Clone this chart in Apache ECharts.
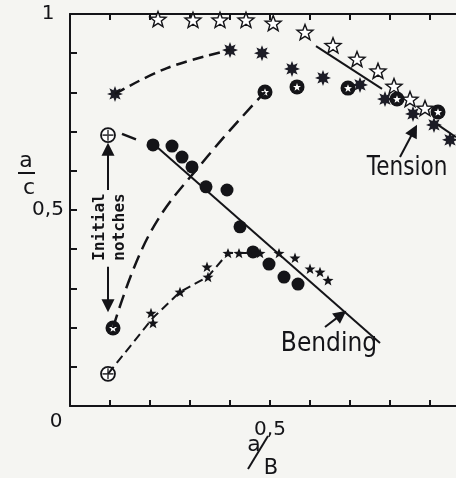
<!DOCTYPE html>
<html>
<head>
<meta charset="utf-8">
<script src="https://cdn.jsdelivr.net/npm/echarts@6/dist/echarts.min.js"></script>
<style>
html, body { margin: 0; padding: 0; background: #f5f5f2; }
#chart { width: 456px; height: 478px; }
</style>
</head>
<body>
<div id="chart"></div>
<script>
// tension: open stars
var openStars = [[0.22,0.987],[0.3075,0.985],[0.375,0.985],[0.44,0.985],[0.508,0.977],[0.5875,0.954],
	[0.6575,0.92],[0.7175,0.885],[0.77,0.855],[0.81,0.816],[0.85,0.783],[0.8875,0.76]];
// filled 8-point stars
var bursts = [[0.1125,0.796],[0.4,0.908],[0.48,0.9],[0.555,0.86],[0.6325,0.837],[0.725,0.819],
	[0.7875,0.783],[0.8575,0.745],[0.91,0.717],[0.95,0.679]];
// rings with a star inside
var ringStars = [[0.1075,0.199],[0.4875,0.801],[0.5675,0.814],[0.695,0.811],[0.8175,0.783],[0.92,0.75]];
// initial notches
var notches = [[0.095,0.691],[0.095,0.082]];
// bending: filled dots
var dots = [[0.2075,0.666],[0.255,0.663],[0.28,0.635],[0.305,0.61],[0.34,0.559],[0.3925,0.551],
	[0.425,0.457],[0.4575,0.393],[0.4975,0.362],[0.535,0.329],[0.57,0.311]];
// small filled stars
var smallStars = [[0.2025,0.237],[0.2075,0.212],[0.275,0.291],[0.3425,0.355],[0.345,0.329],[0.395,0.39],
	[0.4225,0.39],[0.475,0.39],[0.5225,0.39],[0.5625,0.378],[0.6,0.35],[0.625,0.342],[0.645,0.321]];

// hand drawn fit lines
var burstCurve = [[0.1125,0.796],[0.2425,0.862],[0.4,0.908]];
var ringCurve = [[0.1075,0.199],[0.2,0.441],[0.3425,0.635],[0.4875,0.801]];
var smallStarCurve = [[0.095,0.082],[0.2075,0.225],[0.275,0.291],[0.345,0.33],[0.395,0.39],[0.47,0.39]];
var notchDash = [[0.13,0.694],[0.165,0.68]];
var bendingLine = [[0.2175,0.661],[0.775,0.161]];
var tensionLineA = [[0.615,0.918],[0.78,0.809]];
var tensionLineB = [[0.92,0.717],[0.965,0.686]];

// arrows [from, to]
var arrows = [
	[[0.095,0.551],[0.095,0.655]],
	[[0.095,0.355],[0.095,0.256]],
	[[0.825,0.635],[0.86,0.703]],
	[[0.6375,0.2015],[0.678,0.233]]
];

var ink = '#141418';

function starPath(n, r1, r2) {
	var s = 'path://';
	for (var i = 0; i < 2 * n; i++) {
		var r = i % 2 ? r2 : r1, a = Math.PI * i / n - Math.PI / 2;
		s += (i ? 'L' : 'M') + (r * Math.cos(a)).toFixed(2) + ',' + (r * Math.sin(a)).toFixed(2);
	}
	return s + 'Z';
}
var star5 = starPath(5, 10, 4.2);
var star8 = starPath(8, 10, 5.2);

function lineSeries(data, width, dash, smooth) {
	return {
		type: 'line', data: data, symbol: 'none', smooth: smooth ? 0.4 : false, silent: true,
		lineStyle: { color: ink, width: width, type: dash || 'solid', cap: 'butt' }
	};
}
function dotSeries(data, symbol, size, fill, border, bw) {
	return {
		type: 'scatter', data: data, symbol: symbol, symbolSize: size, symbolKeepAspect: true, silent: true,
		itemStyle: { color: fill, borderColor: border || fill, borderWidth: bw || 0, opacity: 1 }
	};
}
function label(text, x, y, size, extra) {
	var el = { type: 'text', x: x, y: y, style: { text: text, font: size + 'px "DejaVu Sans"', fill: ink, align: 'center', verticalAlign: 'middle' } };
	for (var k in extra) el[k] = extra[k];
	return el;
}

var chart = echarts.init(document.getElementById('chart'));
var bending = lineSeries(bendingLine, 2);
bending.markLine = {
	silent: true,
	symbol: ['none', 'path://M5,0L10,18L0,18Z'],
	symbolSize: 13,
	symbolKeepAspect: false,
	label: { show: false },
	lineStyle: { color: ink, width: 2, type: 'solid' },
	data: arrows.map(function (a) { return [{ coord: a[0] }, { coord: a[1] }]; })
};

var axisFont = { color: ink, fontSize: 20, fontFamily: 'DejaVu Sans' };

chart.setOption({
	backgroundColor: '#f5f5f2',
	animation: false,
	grid: { left: 70, right: -14, top: 14, bottom: 72, outerBoundsMode: 'none' },
	xAxis: [{
		type: 'value', min: 0, max: 1, interval: 0.1,
		axisLine: { lineStyle: { color: ink, width: 2 } },
		axisTick: { inside: true, length: 6, lineStyle: { color: ink, width: 2 } },
		splitLine: { show: false },
		axisLabel: Object.assign({
			margin: 14,
			formatter: function (v) { return Math.round(v * 10) === 5 ? '0,5' : ''; }
		}, axisFont)
	}, {
		type: 'value', min: 0, max: 1, interval: 0.1, position: 'top',
		axisLine: { lineStyle: { color: ink, width: 2 } },
		axisTick: { inside: true, length: 6, lineStyle: { color: ink, width: 2 } },
		splitLine: { show: false },
		axisLabel: { show: false }
	}],
	yAxis: {
		type: 'value', min: 0, max: 1, interval: 0.1,
		axisLine: { lineStyle: { color: ink, width: 2 } },
		axisTick: { inside: true, length: 7, lineStyle: { color: ink, width: 2 } },
		splitLine: { show: false },
		axisLabel: Object.assign({
			margin: 22, align: 'center',
			formatter: function (v) {
				var k = Math.round(v * 10);
				return k === 10 ? '1' : (k === 5 ? '0,5' : '');
			}
		}, axisFont)
	},
	graphic: [
		label('0', 56, 422, 20),
		label('a', 26, 161, 22),
		{ type: 'line', shape: { x1: 18, y1: 173, x2: 35, y2: 173 }, style: { stroke: ink, lineWidth: 2 } },
		label('c', 29, 188, 22),
		label('a', 254, 445, 22),
		{ type: 'line', shape: { x1: 268, y1: 436, x2: 248, y2: 469 }, style: { stroke: ink, lineWidth: 2 } },
		label('B', 271, 469, 21),
		{ type: 'text', x: 100, y: 227, rotation: Math.PI / 2, style: { text: 'Initial', font: 'bold 16px "DejaVu Sans Mono"', fill: ink, align: 'center', verticalAlign: 'middle' } },
		{ type: 'text', x: 120, y: 227, rotation: Math.PI / 2, style: { text: 'notches', font: 'bold 16px "DejaVu Sans Mono"', fill: ink, align: 'center', verticalAlign: 'middle' } },
		label('Tension', 407, 168, 27, { scaleX: 0.8 }),
		label('Bending', 329, 344, 26, { scaleX: 0.9 })
	],
	series: [
		bending,
		lineSeries(tensionLineA, 2),
		lineSeries(tensionLineB, 2),
		lineSeries(burstCurve, 2.5, [11, 6], true),
		lineSeries(ringCurve, 2.5, [14, 7], true),
		lineSeries(smallStarCurve, 2, [9, 5]),
		lineSeries(notchDash, 2.5),
		dotSeries(openStars, star5, 16, '#ffffff', ink, 1.4),
		dotSeries(bursts, star8, 16, '#1c1c26'),
		dotSeries(ringStars, 'circle', 15, ink),
		dotSeries(ringStars, star5, 8, '#ffffff'),
		dotSeries(notches, 'circle', 14, '#ffffff', ink, 1.8),
		{
			type: 'scatter', data: notches, symbol: 'path://M-6,0L6,0M0,-6L0,6', symbolSize: 11, silent: true,
			itemStyle: { color: 'none', borderColor: ink, borderWidth: 1.6 }
		},
		dotSeries(dots, 'circle', 13, ink),
		dotSeries(smallStars, star5, 11, ink)
	]
});
</script>
</body>
</html>
